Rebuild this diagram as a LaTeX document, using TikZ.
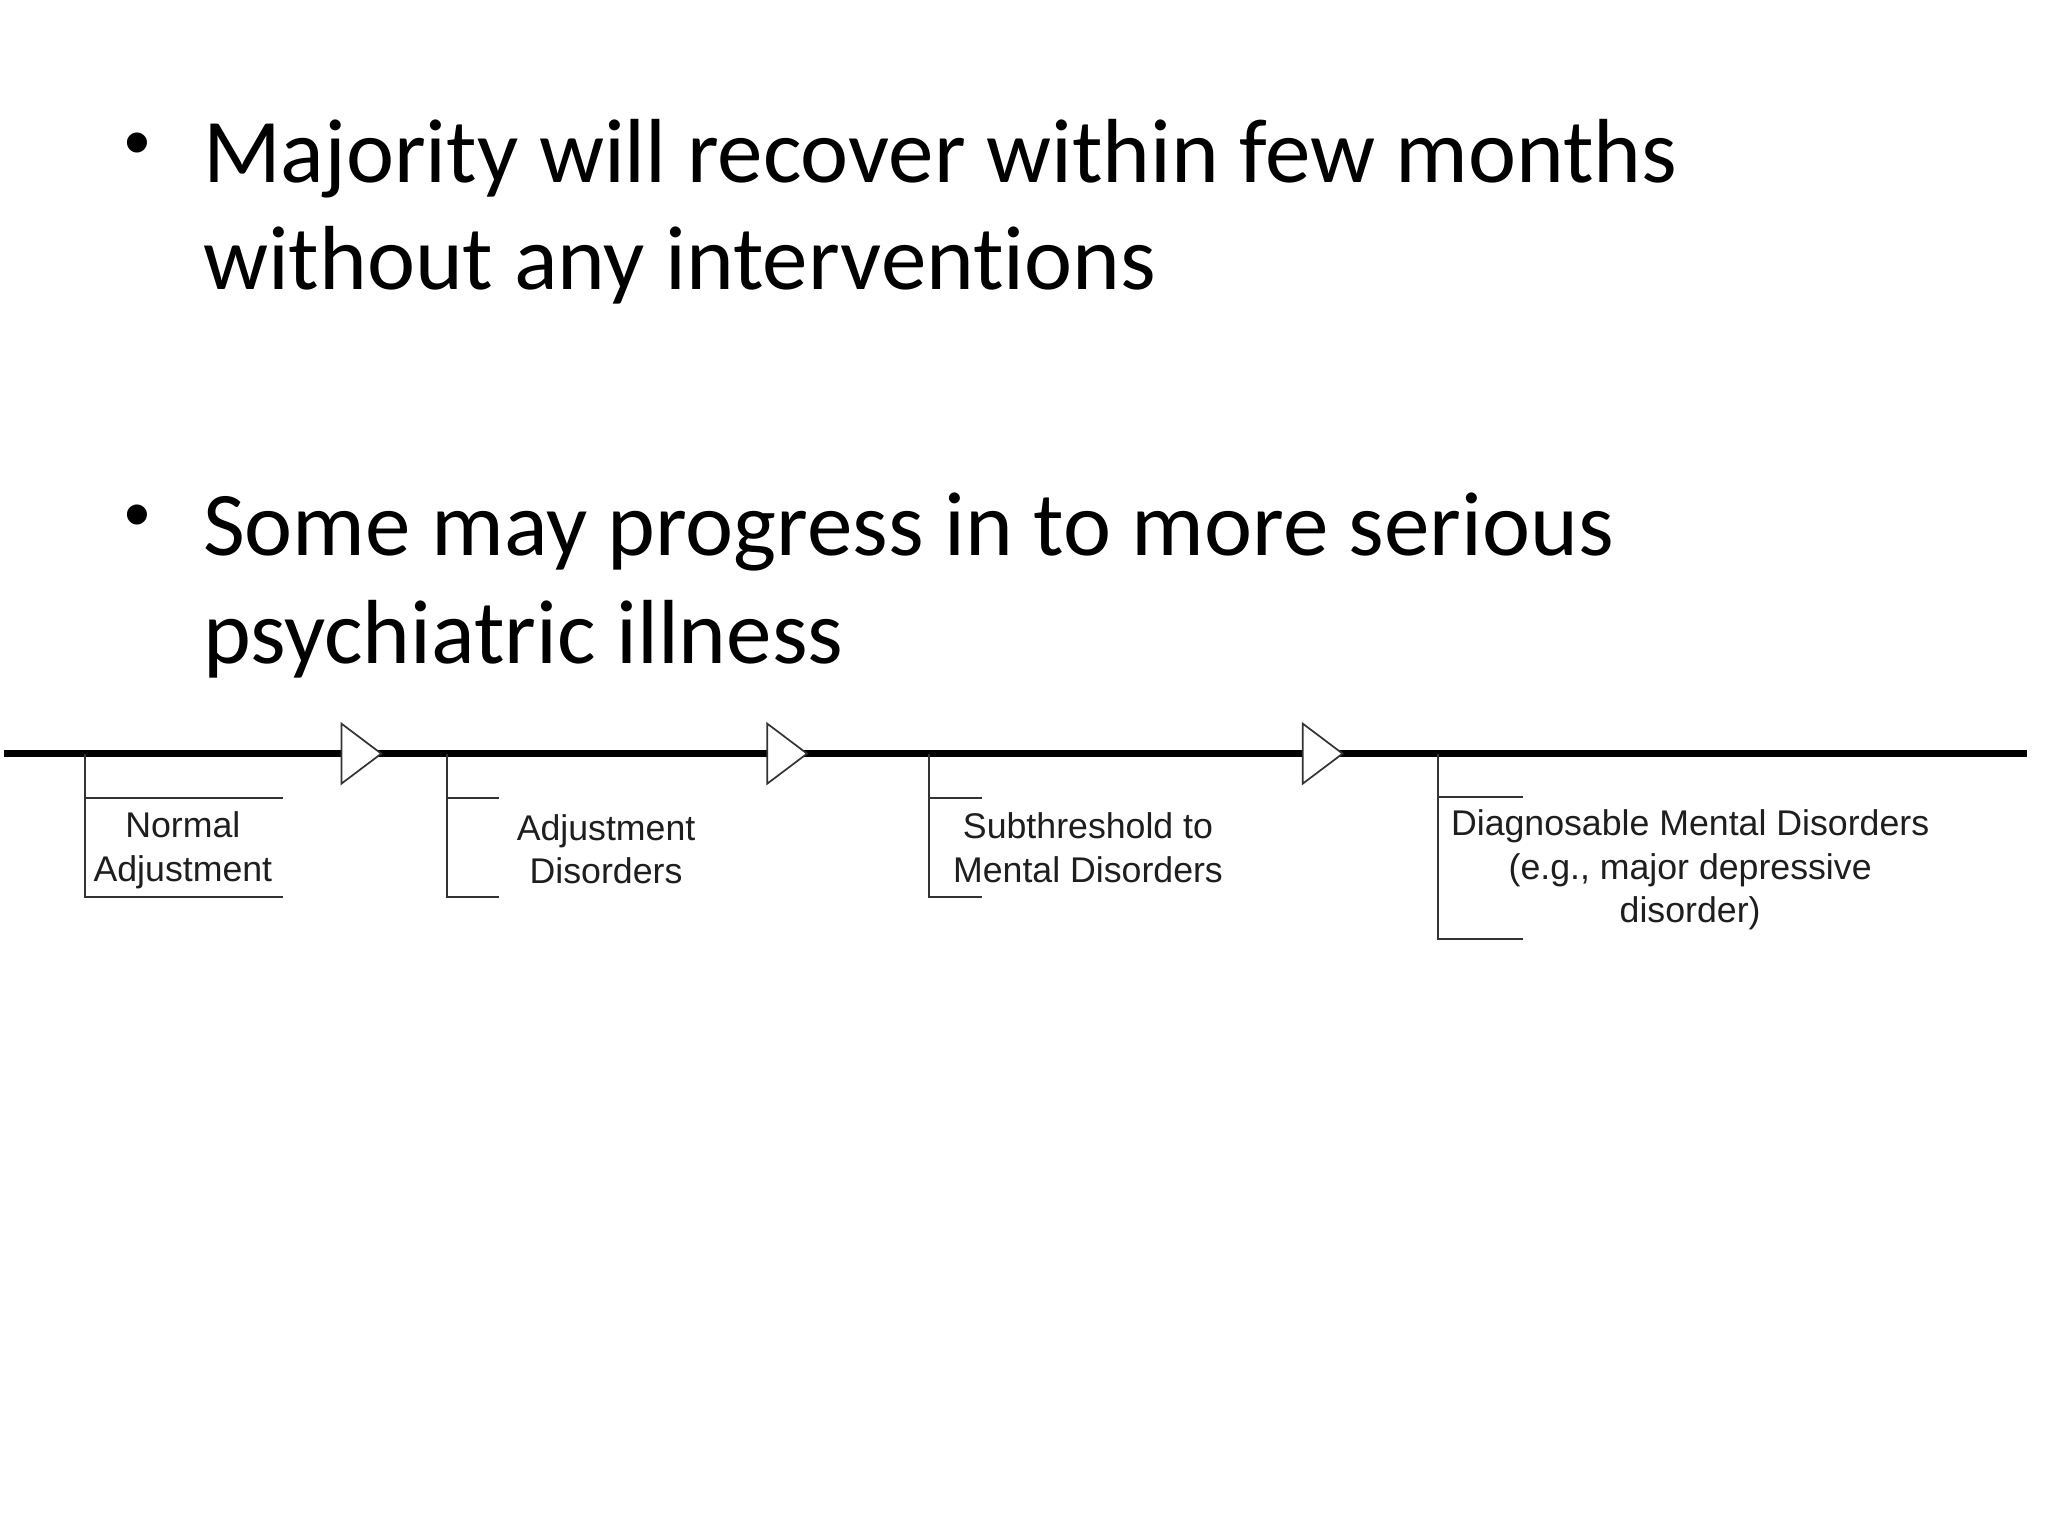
\documentclass[tikz,border=0pt]{standalone}
\usepackage{fontspec}
\setmainfont[Ligatures=NoCommon]{Carlito}
\newfontfamily\lblfont{Liberation Sans}
\usetikzlibrary{shapes.geometric}
\definecolor{lblgray}{HTML}{1E1E1E}
\definecolor{brkgray}{HTML}{333333}
\tikzset{
  bullettext/.style={anchor=base west,inner sep=0pt,font=\fontsize{32}{38}\selectfont},
  bulletdot/.style={anchor=center,inner sep=0pt,font=\lblfont\fontsize{26}{30}\selectfont},
  lbl/.style={align=center,inner sep=0pt,text=lblgray,font=\lblfont\fontsize{12.55}{15.2}\selectfont},
  brk/.style={draw=brkgray,line width=0.8pt},
  mainline/.style={draw=black,line width=2.5pt},
  tri/.style={isosceles triangle,isosceles triangle apex angle=74,draw=brkgray,fill=white,line width=0.6pt,inner sep=0pt,minimum height=14pt,minimum width=19pt,anchor=apex}
}
\begin{document}
\begin{tikzpicture}[x=0.4592pt,y=-0.4592pt]
\useasboundingbox[fill=white] (0,0) rectangle (1568,1176);
% bullets
\node[bulletdot] (d1) at (105,115) {•};
\node[bullettext] (p1a) at (155,140) {Majority will recover within few months};
\node[bullettext] (p1b) at (155,222) {without any interventions};
\node[bulletdot] (d2) at (105,400) {•};
\node[bullettext] (p2a) at (155,425) {Some may progress in to more serious};
\node[bullettext] (p2b) at (155,508) {psychiatric illness};
% main timeline
\coordinate (ls) at (3,577);
\coordinate (le) at (1552,577);
\draw[mainline] (ls) -- (le);
\node[tri] (t1) at (293,577) {};
\node[tri] (t2) at (619,577) {};
\node[tri] (t3) at (1029,577) {};
% bracket 1
\coordinate (a0) at (65,577); \coordinate (a1) at (65,611); \coordinate (a2) at (65,687);
\coordinate (a3) at (217,611); \coordinate (a4) at (217,687);
\draw[brk] (a0) -- (a2) -- (a4);
\draw[brk] (a1) -- (a3);
\node[lbl] (n1) at (140,651) {Normal\\Adjustment};
% bracket 2
\coordinate (b0) at (342,577); \coordinate (b1) at (342,611); \coordinate (b2) at (342,687);
\coordinate (b3) at (382,611); \coordinate (b4) at (382,687);
\draw[brk] (b0) -- (b2) -- (b4);
\draw[brk] (b1) -- (b3);
\node[lbl] (n2) at (464,650) {Adjustment\\Disorders};
% bracket 3
\coordinate (c0) at (711,577); \coordinate (c1) at (711,611); \coordinate (c2) at (711,687);
\coordinate (c3) at (752,611); \coordinate (c4) at (752,687);
\draw[brk] (c0) -- (c2) -- (c4);
\draw[brk] (c1) -- (c3);
\node[lbl] (n3) at (833,649) {Subthreshold to\\Mental Disorders};
% bracket 4
\coordinate (e0) at (1101,577); \coordinate (e1) at (1101,610); \coordinate (e2) at (1101,719);
\coordinate (e3) at (1166,610); \coordinate (e4) at (1166,719);
\draw[brk] (e0) -- (e2) -- (e4);
\draw[brk] (e1) -- (e3);
\node[lbl] (n4) at (1294,666) {Diagnosable Mental Disorders\\(e.g., major depressive\\disorder)};
\end{tikzpicture}
\end{document}
